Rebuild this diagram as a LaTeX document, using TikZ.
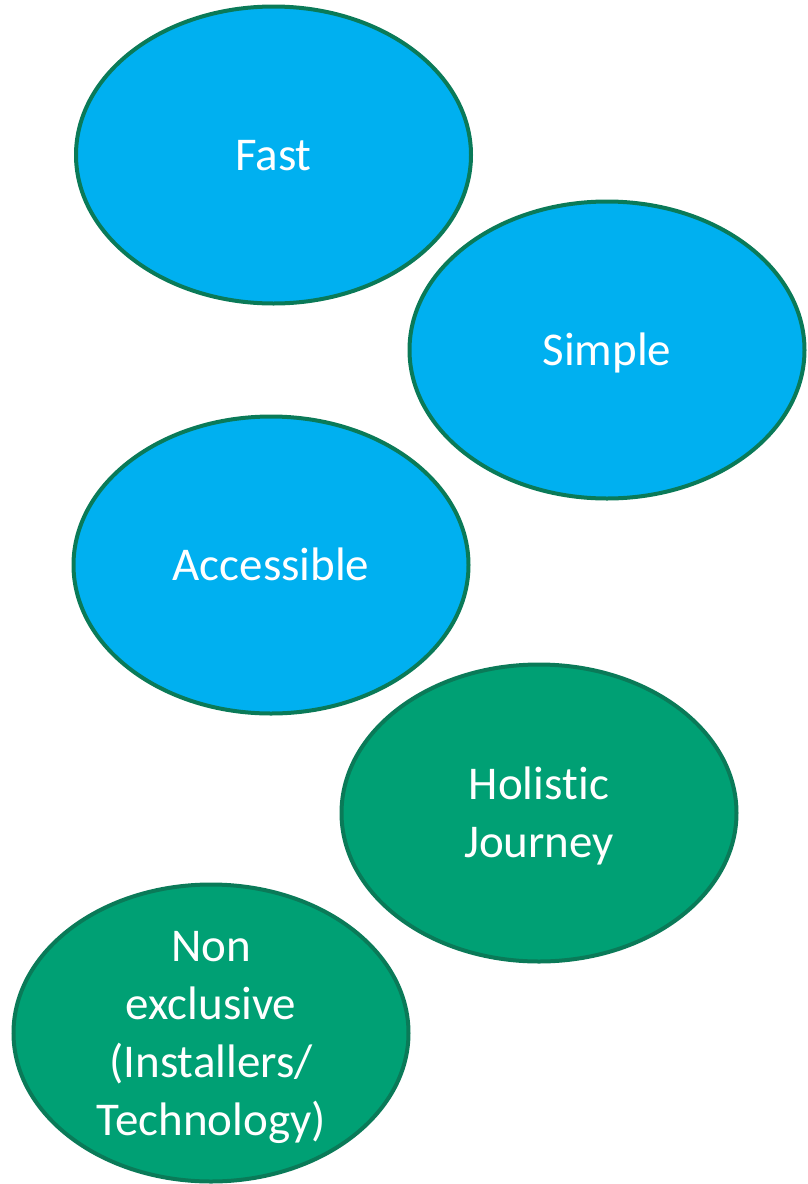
\documentclass[tikz,border=0pt]{standalone}
\usepackage{fontspec}
\setmainfont[Ligatures={NoCommon,NoContextual}]{Carlito}
\usetikzlibrary{shapes.geometric}
\definecolor{bluefill}{HTML}{00B0F0}
\definecolor{greenfill}{HTML}{00A074}
\definecolor{rimgreen}{HTML}{0A7A58}
\newcommand\ovalstrut{\rule[-0.27em]{0pt}{1.2em}}
\tikzset{
  oval/.style={ellipse, draw=rimgreen, line width=4pt, minimum width=395pt, minimum height=297pt, inner sep=0pt},
  blueoval/.style={oval, fill=bluefill},
  greenoval/.style={oval, fill=greenfill},
  ovaltext/.style={inner sep=0pt, text=white, align=center, font=\fontsize{47pt}{58pt}\selectfont}
}
\begin{document}
\begin{tikzpicture}[x=1pt,y=-1pt]
\useasboundingbox (0,0) rectangle (808,1184);
\node[blueoval] (fast) at (273.5,155) {};
\node[blueoval] (simple) at (607,350) {};
\node[blueoval] (access) at (271,565) {};
\node[greenoval] (holistic) at (539,813) {};
\node[greenoval] (nonex) at (211,1033) {};
\node[ovaltext] (fastt) at (fast.center) {\ovalstrut Fast};
\node[ovaltext] (simplet) at (simple.center) {\ovalstrut Simple};
\node[ovaltext] (accesst) at (access.center) {\ovalstrut Accessible};
\node[ovaltext] (holistict) at (holistic.center) {\ovalstrut Holis\kern0pt tic\\\ovalstrut Journey};
\node[ovaltext] (nonext) at (nonex.center) {\ovalstrut Non\\\ovalstrut exclusive\\\ovalstrut (Installers/\\\ovalstrut Technology)};
\end{tikzpicture}
\end{document}
